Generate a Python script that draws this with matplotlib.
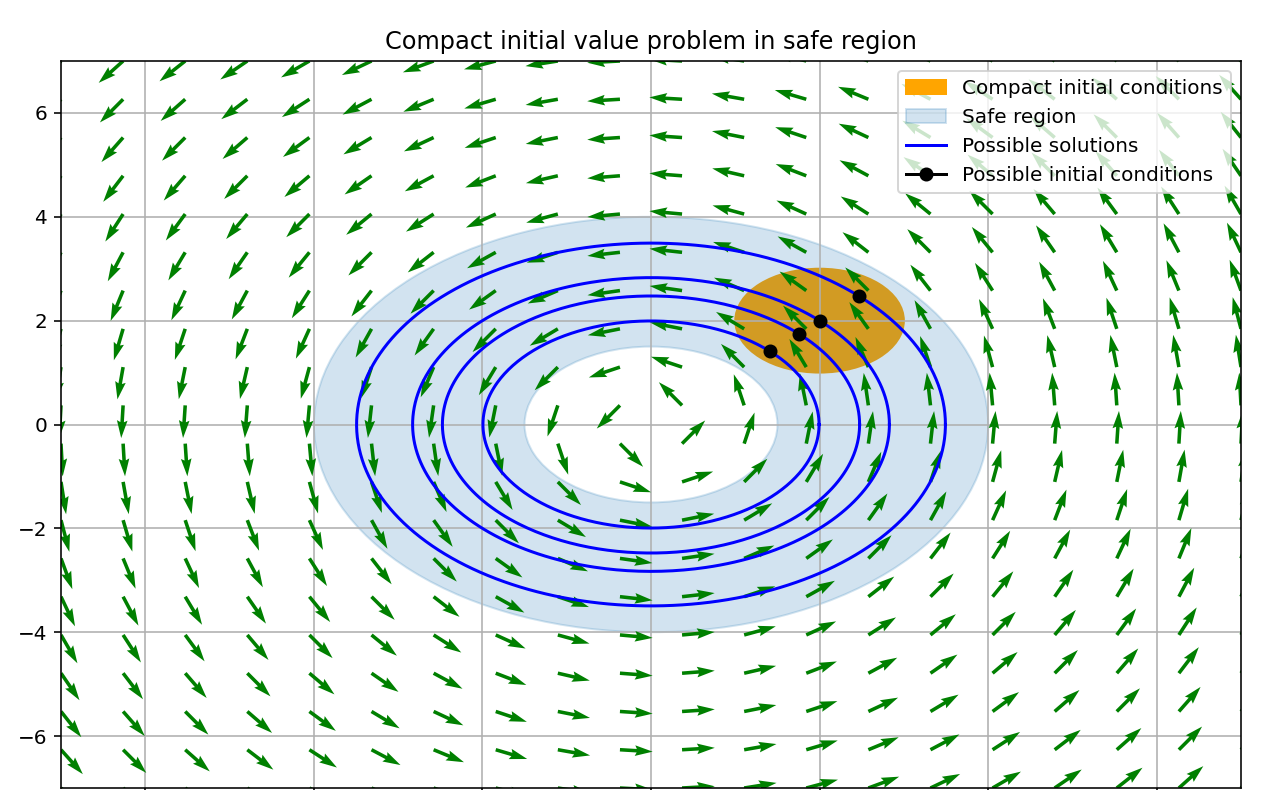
import numpy as np
import matplotlib.pyplot as plt
from matplotlib.patches import Circle, Annulus

DPI = 144

# initial conditions on the diagonal (x0, y0)
x0 = [1.41, 1.75, 2.0, 2.47]
y0 = [1.41, 1.75, 2.0, 2.47]

ic_center = (2.0, 2.0)
ic_radius = 1.0
safe_inner = 1.5
safe_outer = 4.0
lims = (-7, 7)
n_grid = 20
ticks = [-6, -4, -2, 0, 2, 4, 6]

fig = plt.figure(figsize=(1286 / DPI, 790 / DPI), dpi=DPI)
ax = fig.add_axes([61 / 1286, 2 / 790, 1180 / 1286, 727 / 790])

ax.add_patch(Circle(ic_center, ic_radius, color="orange", label="Compact initial conditions"))
ax.add_patch(Annulus((0, 0), safe_outer, safe_outer - safe_inner, color="C0", alpha=0.2,
                     label="Safe region"))

# vector field x' = -y, y' = x, normalised
g = np.linspace(lims[0], lims[1], n_grid)
X, Y = np.meshgrid(g, g)
U, V = -Y, X
N = np.hypot(U, V)
ax.quiver(X, Y, U / N, V / N, color="g", zorder=1.6)

t = np.linspace(0, 2 * np.pi, 400)
for i, (a, b) in enumerate(zip(x0, y0)):
    r = np.hypot(a, b)
    ax.plot(r * np.cos(t), r * np.sin(t), color="b",
            label="Possible solutions" if i == 0 else None)
for i, (a, b) in enumerate(zip(x0, y0)):
    ax.plot([a], [b], "ko-", zorder=3,
            label="Possible initial conditions" if i == 0 else None)

ax.set_xlim(*lims)
ax.set_ylim(*lims)
ax.set_xticks(ticks)
ax.set_yticks(ticks)
# the x tick labels fall below the bottom edge of the picture
ax.tick_params(axis="x", labelbottom=False)
ax.grid(True)
ax.legend(loc="upper right")
ax.set_title("Compact initial value problem in safe region")

fig.savefig("out.png", dpi=DPI)
